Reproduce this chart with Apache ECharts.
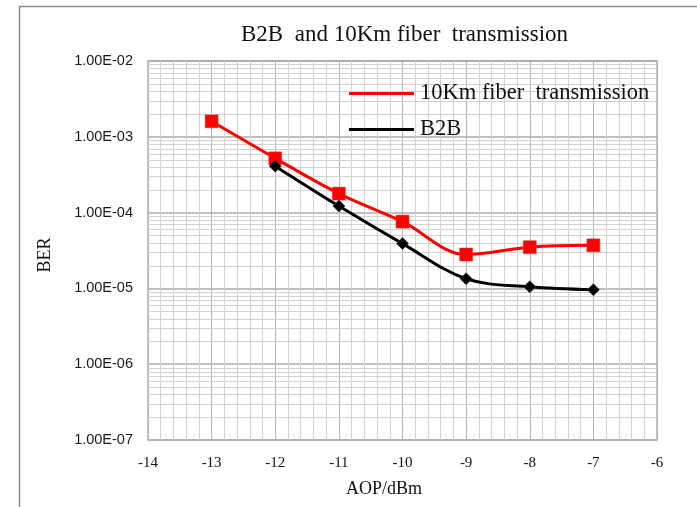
<!DOCTYPE html>
<html>
<head>
<meta charset="utf-8">
<script src="https://cdn.jsdelivr.net/npm/echarts@6/dist/echarts.min.js"></script>
<style>
  html, body { margin: 0; padding: 0; background: #fff; }
  #chart { width: 697px; height: 507px; }
</style>
</head>
<body>
<div id="chart"></div>
<script>
// Received optical power (dBm)
const aop = [-13, -12, -11, -10, -9, -8, -7];
const aopB2B = [-12, -11, -10, -9, -8, -7];

// Bit error rate measurements
const ber10km = [1.6e-3, 5.2e-4, 1.78e-4, 7.6e-5, 2.8e-5, 3.5e-5, 3.7e-5];
const berB2B = [4.1e-4, 1.22e-4, 3.9e-5, 1.34e-5, 1.05e-5, 9.6e-6];

const seriesNames = ['10Km fiber  transmission', 'B2B'];
const titleText = 'B2B  and 10Km fiber  transmission';
const xName = 'AOP/dBm';
const yName = 'BER';

// Log-axis decades and the 2..9 minor lines inside each decade
const decades = [1e-7, 1e-6, 1e-5, 1e-4, 1e-3, 1e-2];
const minorMultipliers = [2, 3, 4, 5, 6, 7, 8, 9];

const minorY = [];
for (let i = 0; i < decades.length - 1; i++) {
  for (const m of minorMultipliers) minorY.push(decades[i] * m);
}

const serif = '"Liberation Serif", "Times New Roman", serif';
const sans = '"Liberation Sans", "DejaVu Sans", sans-serif';

function sci(v) {
  const e = Math.round(Math.log10(v));
  const sign = e < 0 ? '-' : '+';
  const a = Math.abs(e);
  return '1.00E' + sign + (a < 10 ? '0' + a : a);
}

const chart = echarts.init(document.getElementById('chart'));
chart.setOption({
  animation: false,
  backgroundColor: '#fff',
  title: {
    text: titleText,
    left: 241,
    top: 23,
    padding: 0,
    textStyle: { fontFamily: serif, fontSize: 23, fontWeight: 'normal', color: '#111' }
  },
  graphic: [
    {
      type: 'rect',
      shape: { x: 19.5, y: 6.5, width: 800, height: 700 },
      style: { fill: 'none', stroke: '#8c8c8c', lineWidth: 1.5 },
      silent: true
    },
    {
      type: 'text',
      x: 384, y: 489,
      style: {
        text: xName, font: '18px ' + serif, fill: '#111',
        textAlign: 'center', textVerticalAlign: 'middle'
      }
    },
    {
      type: 'text',
      x: 45, y: 255,
      rotation: Math.PI / 2,
      style: {
        text: yName, font: '18px ' + serif, fill: '#111',
        textAlign: 'center', textVerticalAlign: 'middle'
      }
    }
  ],
  legend: {
    orient: 'vertical',
    left: 349,
    top: 82,
    padding: 0,
    itemGap: 13,
    itemWidth: 65,
    itemHeight: 3,
    data: seriesNames.map(n => ({ name: n, icon: 'rect', itemStyle: { borderWidth: 0 } })),
    textStyle: { fontFamily: serif, fontSize: 22.5, lineHeight: 22, color: '#111', padding: [0, 0, 0, 1] }
  },
  grid: {
    left: 148, right: 40, top: 61, bottom: 67,
    show: true, borderColor: '#b4b4b4', borderWidth: 1.5
  },
  xAxis: {
    type: 'value',
    min: -14, max: -6, interval: 1,
    axisLine: { show: false },
    axisTick: { show: false },
    axisLabel: { fontFamily: serif, fontSize: 15, color: '#111', margin: 16 },
    splitLine: { show: true, lineStyle: { color: '#b4b4b4', width: 1 } },
    minorTick: { show: false, splitNumber: 5 },
    minorSplitLine: { show: true, lineStyle: { color: '#d2d2d2', width: 1 } }
  },
  yAxis: {
    type: 'log',
    logBase: 10,
    min: 1e-7, max: 1e-2,
    axisLine: { show: false },
    axisTick: { show: false },
    axisLabel: { fontFamily: sans, fontSize: 14.5, color: '#1a1a1a', margin: 15, formatter: sci },
    splitLine: { show: true, lineStyle: { color: '#ababab', width: 1.5 } }
  },
  series: [
    {
      // Minor log gridlines (2..9 × each decade), placed through the y scale
      type: 'custom',
      silent: true,
      z: 1,
      clip: true,
      encode: { x: 0, y: 1 },
      data: minorY.map(v => [-14, v]),
      renderItem: function (params, api) {
        const cs = params.coordSys;
        const y = Math.round(api.coord([api.value(0), api.value(1)])[1]) + 0.5;
        return {
          type: 'line',
          shape: { x1: cs.x, y1: y, x2: cs.x + cs.width, y2: y },
          style: { stroke: '#d2d2d2', lineWidth: 1 }
        };
      }
    },
    {
      name: seriesNames[0],
      type: 'line',
      data: aop.map((x, i) => [x, ber10km[i]]),
      smooth: 0.35,
      z: 3,
      symbol: 'rect',
      symbolSize: 13,
      lineStyle: { color: '#ff0000', width: 3 },
      itemStyle: { color: '#ff0000', borderColor: '#e04040', borderWidth: 0.5 }
    },
    {
      name: seriesNames[1],
      type: 'line',
      data: aopB2B.map((x, i) => [x, berB2B[i]]),
      smooth: 0.35,
      z: 4,
      symbol: 'diamond',
      symbolSize: 12,
      lineStyle: { color: '#000000', width: 3 },
      itemStyle: { color: '#000000', borderColor: '#24385a', borderWidth: 0.8 }
    }
  ]
});
</script>
</body>
</html>
